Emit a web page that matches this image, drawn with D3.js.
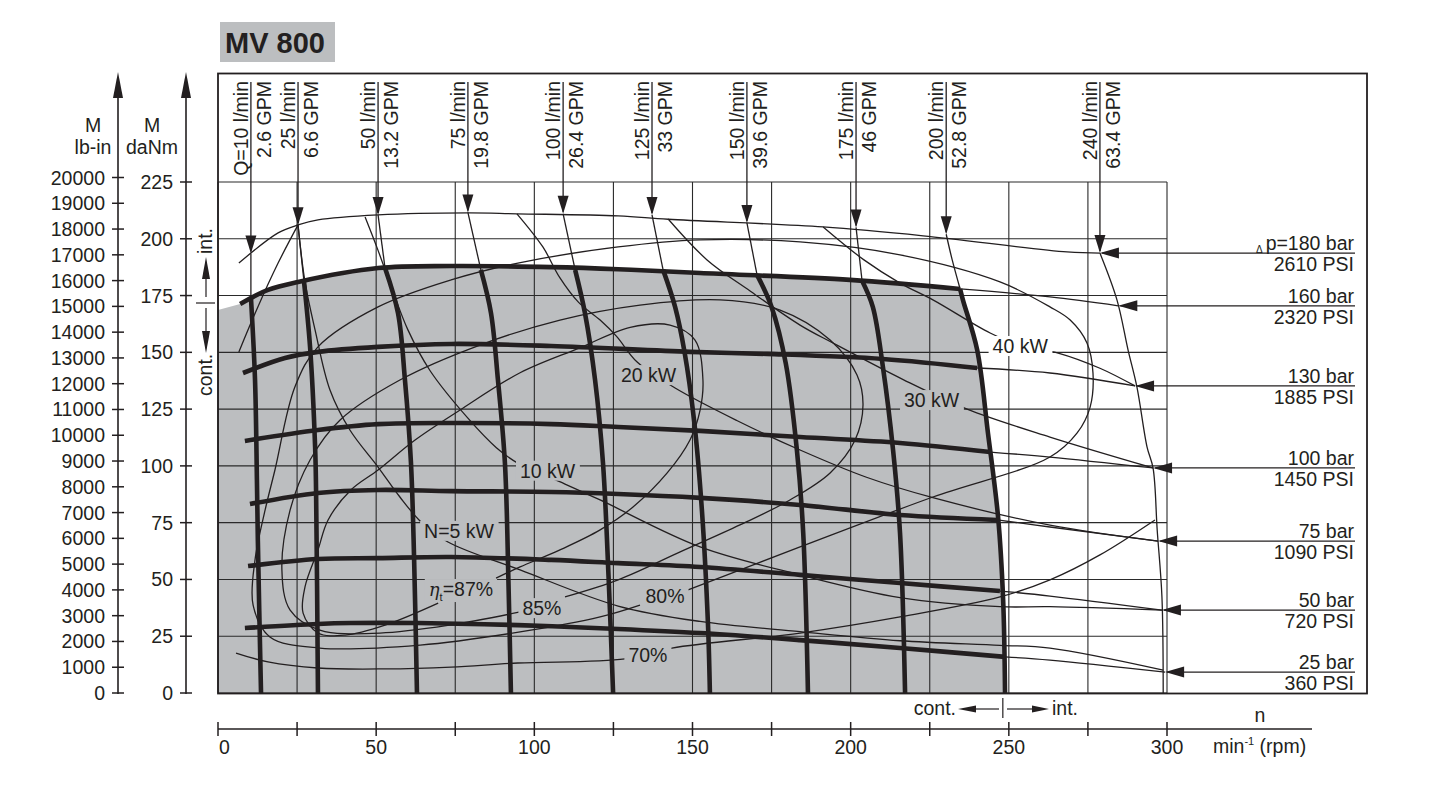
<!DOCTYPE html>
<html>
<head>
<meta charset="utf-8">
<script src="https://cdn.jsdelivr.net/npm/d3@7/dist/d3.min.js"></script>
<style>
html,body{margin:0;padding:0;background:#fff;}
svg{display:block;}
text{font-family:"Liberation Sans",Arial,Helvetica,sans-serif;fill:#231f20;}
</style>
</head>
<body>
<svg id="chart" width="1440" height="789"></svg>
<script>
// ================= DATA (n in rpm, M in daNm) =================
const titleText = "MV 800";
const rpmTicks = d3.range(0, 301, 25);
const rpmLabels = [0, 50, 100, 150, 200, 250, 300];
const daNmTicks = d3.range(0, 226, 25);
const lbinTicks = d3.range(0, 20001, 1000);

const flowLpm = ["Q=10 l/min","25 l/min","50 l/min","75 l/min","100 l/min","125 l/min","150 l/min","175 l/min","200 l/min","240 l/min"];
const flowGpm = ["2.6 GPM","6.6 GPM","13.2 GPM","19.8 GPM","26.4 GPM","33 GPM","39.6 GPM","46 GPM","52.8 GPM","63.4 GPM"];

// flow lines: thin part (arrow tip -> continuous region) and thick part (continuous region)
const q10Int  = [[10.4,193.5],[10.4,174.4]];
const q10Cont = [[10.4,174.4],[11.7,138],[12.3,94],[12.6,67],[13.6,0]];
const q25Int  = [[25.3,206],[26.2,194],[27.2,181]];
const q25Cont = [[27.2,181],[29.1,152.4],[30.7,108.3],[31,89.4],[31.6,0]];
const q50Int  = [[50.6,210.5],[52.8,187.1]];
const q50Cont = [[52.8,187.1],[56.9,167.3],[59.1,137.8],[61,101.3],[62,58.6],[62.9,0]];
const q75Int  = [[79,211.6],[83.1,186.3]];
const q75Cont = [[83.1,186.3],[86.3,167.3],[88.5,137.8],[90.7,101.3],[91.8,50],[92.6,0]];
const q100Int  = [[109.1,211],[112.9,186.3]];
const q100Cont = [[112.9,186.3],[116,167.3],[119.2,137.8],[121.7,101.3],[123.5,50],[124.9,0]];
const q125Int  = [[137.2,210.5],[140.7,186.3]];
const q125Cont = [[140.7,186.3],[144.5,170],[147.5,150],[150.5,120],[153,80],[154.9,30],[155.5,0]];
const q150Int  = [[167.2,207],[170.4,184.1]];
const q150Cont = [[170.4,184.1],[175,170],[179.5,145],[183,107],[185,70.5],[186.5,0]];
const q175Int  = [[201.7,205],[203.6,181.5]];
const q175Cont = [[203.6,181.5],[207,170],[210.2,143.5],[213.4,107],[215.6,70.5],[217.2,0]];
const q200Int  = [[230.2,202],[232.1,190.7],[234.6,177.9]];
const q200Cont = [[234.6,177.9],[235.5,173],[240,151],[243.4,114.5],[246.6,77.5],[248.2,41],[248.8,0]];
const q240Line = [[278.8,193.7],[284.2,173],[287.7,151],[290.5,134.7],[293.7,108.3],[295.6,99],[296.9,71.8],[298.4,42.3],[298.8,0]];

// pressure lines
const barLabels = ["p=180 bar","160 bar","130 bar","100 bar","75 bar","50 bar","25 bar"];
const psiLabels = ["2610 PSI","2320 PSI","1885 PSI","1450 PSI","1090 PSI","720 PSI","360 PSI"];
const p180Line = [[6.6,189.3],[19,202.6],[25.3,206.1],[31.6,208.3],[50.6,210.5],[79,211.4],[94.5,211],[126.5,210.1],[142.3,208.6],[191.3,205.2],[222.9,201.3],[268.4,194.2],[278.8,193.7]];
const p160Cont = [[7,171.3],[15.8,177.5],[25.3,181],[50.6,187.1],[73.7,188],[105.3,187.5],[126.5,186.6],[152.4,184.9],[199.8,181.9],[234.6,177.9]];
const p160Int  = [[234.6,177.9],[263,174.4],[284.6,170.5]];
const p130Cont = [[7.9,140.9],[21.2,147.5],[31.6,150.2],[50.6,152.4],[73.7,153.7],[105.3,152.8],[149.2,150.2],[173.6,149.3],[210.2,147.1],[240,143.1]];
const p130Int  = [[240,143.1],[263,140.9],[289.9,135.2]];
const p100Cont = [[8.5,111],[31.6,115.8],[50.6,118.4],[73.7,118.9],[105.3,118.4],[126.5,117.1],[152.4,115.4],[184,112.7],[215.6,110.1],[244.1,106.1]];
const p100Int  = [[244.1,106.1],[263,103.9],[295.6,99.1]];
const p75Cont = [[10.1,83.2],[31.6,88.1],[50.6,89.4],[73.7,88.9],[105.3,88.5],[126.5,87.6],[152.4,85.9],[184,82.8],[215.6,78.4],[246.3,76.2]];
const p75Int  = [[246.3,76.2],[263,73.1],[297.2,66.9]];
const p50Cont = [[9.5,55.9],[31.6,59],[50.6,59.4],[73.7,59.9],[105.3,58.6],[126.5,57.2],[152.4,55.5],[184,52],[215.6,48.4],[247.2,44.9]];
const p50Int  = [[247.2,44.9],[263,42.7],[298.4,36.5]];
const p25Cont = [[8.5,28.6],[31.6,30.4],[42,30.8],[63.2,30.8],[94.8,29.9],[126.5,28.2],[152.4,26.4],[184,23.3],[215.6,19.8],[248.8,15.9]];
const p25Int  = [[248.8,15.9],[263,14.5],[299.4,9.2]];

// continuous region meets the M axis here
const contEdgeAtZero = [0,168.6];

// power lines N (kW)
const n5  = [[25.3,206.1],[27.5,181],[30.7,159.8],[35.4,133.4],[41.7,115.8],[50.6,99.5],[57.5,86.3],[64.2,75.3],[72.7,66.5],[95.5,54.2],[126.5,38.3],[152.4,31.5],[184,27],[215.6,23],[247.2,21],[263,19.8],[298.8,10.1]];
const n10 = [[46.5,209.6],[50.3,196],[55,178],[60,160],[67,142],[79,121],[88,108],[95,101],[109.7,92],[120.8,85],[152.4,64.3],[184,52],[215.6,42],[247.2,38],[263,38],[298.4,36.5]];
const n20 = [[94.5,211],[102.7,196.4],[108,183],[114,172],[120.8,164.2],[126,157],[132.5,145.7],[144.5,134.3],[164,120],[184,107],[205,95],[226,86],[263,73.9],[297.2,66.9]];
const n30 = [[142.3,208.7],[154.6,190.7],[168.2,177],[184,162],[194.4,154.1],[216.6,138],[236.8,125],[263,112.7],[295.6,99.1]];
const n40 = [[191.3,205.2],[204.2,190.7],[215.6,180.5],[226,173.1],[244.1,158.5],[253.6,153],[265.6,149.7],[278.8,143],[289.9,135.2]];

// efficiency curves
const eta87 = [[69.6,39.6],[52.8,29.9],[40.2,25.5],[31.6,26.4],[26.9,35.2],[27.5,46.7],[31.6,63],[34.8,76.2],[42,89.4],[50.6,98.2],[62.3,111.4],[76.5,124.6],[95.5,141],[114.4,152],[130.3,161],[142.9,162],[150.8,155.4],[153.3,137.8],[152.4,124.6],[149.2,111.4],[142,96.9],[131.2,81.9],[120.8,71.8],[108.1,63],[95.5,55.5],[87.9,50.6]];
const eta85 = [[95.5,35.7],[73.3,29.9],[51.2,26.4],[32.2,27.7],[22.8,36.5],[20.2,54.2],[22.8,80.6],[29.1,102.6],[38.6,120.2],[57.5,137.8],[82.8,153.2],[108.1,164.2],[133.4,170.8],[158.7,173.1],[177.7,168.6],[193.5,155.4],[202,140],[203.9,126.8],[201.4,111.4],[193.5,96.9],[180.8,85],[165,74],[146.1,62.1],[126.5,49.8],[109.7,42.3]];
const eta80 = [[133.4,38.7],[120.8,33.5],[95.5,26.9],[63.9,21.1],[32.2,19.8],[16.4,24.7],[11.1,38.7],[11.7,58.6],[14.9,80.6],[18,98.2],[24.3,134.7],[31.6,152.4],[50.6,170],[73.7,181.9],[94.8,189.3],[126.5,196.4],[152.4,199.5],[184,198.6],[215.6,192.9],[247.2,181],[263,170],[269.4,164.2],[274.7,154.1],[276.6,140.9],[275.7,125.9],[271.6,114.5],[263,103.9],[226,86.3],[184,64.3],[148.6,45.4]];
const eta70 = [[5.7,17.6],[15.8,13.7],[31.6,11],[52.8,10.6],[73.7,11.4],[94.8,13.2],[128.7,15],[143.5,19.8],[184,26.4],[215.6,33.5],[247.2,42.3],[263,49.8],[278.8,60.8],[296.2,76.2]];
const etaLeftArm = [[6.6,150.2],[12.6,170],[19,189.3],[25.3,206.1]];

// curve labels: [text, n, M(baseline)]
const powerLabels = [["N=5 kW",76.2,68.3],["10 kW",104.2,94.8],["20 kW",136.1,136.9],["30 kW",225.6,125.9],["40 kW",253.6,149.7]];
const etaLabels = [["85%",102.4,34.3],["80%",141.3,39.6],["70%",135.9,13.7]];
const eta87Label = [76.8,42.7];

// ================= DRAWING =================
const INK = "#231f20", GRAY = "#bcbec0";
const FS = 19.5;
const svg = d3.select("#chart");
const X = d3.scaleLinear().domain([0,300]).range([218,1167]);
const Y = d3.scaleLinear().domain([0,225]).range([693,182]);
const YL = d3.scaleLinear().domain([0,20000]).range([693,177.5]);
const line = d3.line().x(d=>X(d[0])).y(d=>Y(d[1])).curve(d3.curveCatmullRom.alpha(0.5));

svg.append("rect").attr("width",1440).attr("height",789).attr("fill","#fff");

// title
svg.append("rect").attr("x",220).attr("y",22).attr("width",115).attr("height",40).attr("fill",GRAY);
svg.append("text").attr("x",225).attr("y",53).attr("font-size",29).attr("font-weight","bold").text(titleText);

// continuous (grey) region
const areaPath = "M"+X(contEdgeAtZero[0])+","+Y(contEdgeAtZero[1]) +
  "L"+line(p160Cont).slice(1) + "L"+line(q200Cont).slice(1) +
  "L"+X(0)+","+Y(0)+"Z";
svg.append("path").attr("d",areaPath).attr("fill",GRAY);

// grid
const grid = svg.append("g").attr("stroke","#2a2a2a").attr("stroke-width",1.1);
rpmTicks.forEach(v=>grid.append("line").attr("x1",X(v)).attr("x2",X(v)).attr("y1",Y(0)).attr("y2",Y(225)));
daNmTicks.forEach(v=>grid.append("line").attr("x1",X(0)).attr("x2",X(300)).attr("y1",Y(v)).attr("y2",Y(v)));

// frame
svg.append("rect").attr("x",218).attr("y",73.5).attr("width",1149).attr("height",620).attr("fill","none").attr("stroke",INK).attr("stroke-width",1.8);

// thin curves
const thin = svg.append("g").attr("fill","none").attr("stroke",INK).attr("stroke-width",1.3);
[eta87,eta85,eta80,eta70,etaLeftArm,n5,n10,n20,n30,n40,p180Line,q240Line,
 p160Int,p130Int,p100Int,p75Int,p50Int,p25Int,
 q10Int,q25Int,q50Int,q75Int,q100Int,q125Int,q150Int,q175Int,q200Int].forEach(d=>thin.append("path").attr("d",line(d)));

// thick curves
const thick = svg.append("g").attr("fill","none").attr("stroke",INK).attr("stroke-width",4.6).attr("stroke-linecap","butt");
[p160Cont,p130Cont,p100Cont,p75Cont,p50Cont,p25Cont,
 q10Cont,q25Cont,q50Cont,q75Cont,q100Cont,q125Cont,q150Cont,q175Cont,q200Cont].forEach(d=>thick.append("path").attr("d",line(d)));

// flow arrows & labels
const flowInts = [q10Int,q25Int,q50Int,q75Int,q100Int,q125Int,q150Int,q175Int,q200Int,q240Line];
const fl = svg.append("g");
flowInts.forEach((arr,i)=>{
  const tip = arr[0], tx = X(tip[0]), ty = Y(tip[1]);
  fl.append("line").attr("x1",tx).attr("x2",tx).attr("y1",82).attr("y2",ty-2).attr("stroke",INK).attr("stroke-width",1.3);
  fl.append("path").attr("d",`M${tx},${ty}L${tx-5.5},${ty-18}L${tx+5.5},${ty-18}Z`).attr("fill",INK);
  fl.append("text").attr("transform",`translate(${tx-3},81) rotate(-90)`).attr("text-anchor","end").attr("font-size",FS).text(flowLpm[i]);
  fl.append("text").attr("transform",`translate(${tx+20},81) rotate(-90)`).attr("text-anchor","end").attr("font-size",FS).text(flowGpm[i]);
});

// pressure arrows & labels
const pressEnds = [p180Line,p160Int,p130Int,p100Int,p75Int,p50Int,p25Int];
const pl = svg.append("g");
pressEnds.forEach((arr,i)=>{
  const tip = arr[arr.length-1], tx = X(tip[0]), ty = Y(tip[1]);
  pl.append("line").attr("x1",tx+2).attr("x2",1355).attr("y1",ty).attr("y2",ty).attr("stroke",INK).attr("stroke-width",1.2);
  pl.append("path").attr("d",`M${tx},${ty}L${tx+19},${ty-5.5}L${tx+19},${ty+5.5}Z`).attr("fill",INK);
  const t = pl.append("text").attr("x",1354).attr("y",ty-3).attr("text-anchor","end").attr("font-size",FS);
  if(i===0){ t.append("tspan").attr("font-size",10).attr("dy",3).text("\u0394"); t.append("tspan").attr("dx",3).attr("dy",-3).text(barLabels[i]); }
  else t.text(barLabels[i]);
  pl.append("text").attr("x",1354).attr("y",ty+18).attr("text-anchor","end").attr("font-size",FS).text(psiLabels[i]);
});

// curve labels with background
function inCont(n,M){ return n < 238 && M < 172; }
const lab = svg.append("g");
function addLabel(build, n, M){
  const g = lab.append("g");
  const t = g.append("text").attr("x",X(n)).attr("y",Y(M)).attr("text-anchor","middle").attr("font-size",FS);
  build(t);
  const b = t.node().getBBox();
  g.insert("rect","text").attr("x",b.x-4).attr("y",b.y+1).attr("width",b.width+8).attr("height",b.height-2)
    .attr("fill", inCont(n,M) ? GRAY : "#fff");
}
powerLabels.forEach(d=>addLabel(t=>t.text(d[0]), d[1], d[2]));
etaLabels.forEach(d=>addLabel(t=>t.text(d[0]), d[1], d[2]));
addLabel(t=>{
  t.append("tspan").attr("font-style","italic").attr("font-family","DejaVu Serif, serif").attr("font-size",18).text("\u03b7");
  t.append("tspan").attr("font-size",11).attr("dy",5).text("t");
  t.append("tspan").attr("dy",-5).text("=87%");
}, eta87Label[0], eta87Label[1]);

// ---------- left axes ----------
const ax = svg.append("g");
[[118,YL,lbinTicks,105],[186,Y,daNmTicks,173]].forEach(([ax0,sc,ticks,lx])=>{
  ax.append("line").attr("x1",ax0).attr("x2",ax0).attr("y1",96).attr("y2",694).attr("stroke",INK).attr("stroke-width",1.6);
  ax.append("path").attr("d",`M${ax0},72L${ax0-5},98L${ax0+5},98Z`).attr("fill",INK);
  ticks.forEach(v=>{
    ax.append("line").attr("x1",ax0-6).attr("x2",ax0+6).attr("y1",sc(v)).attr("y2",sc(v)).attr("stroke",INK).attr("stroke-width",1.5);
    ax.append("text").attr("x",lx).attr("y",sc(v)+7).attr("text-anchor","end").attr("font-size",FS).text(v);
  });
});
ax.append("text").attr("x",93).attr("y",132).attr("text-anchor","middle").attr("font-size",FS).text("M");
ax.append("text").attr("x",93).attr("y",154).attr("text-anchor","middle").attr("font-size",FS).text("lb-in");
ax.append("text").attr("x",152).attr("y",132).attr("text-anchor","middle").attr("font-size",FS).text("M");
ax.append("text").attr("x",152).attr("y",154).attr("text-anchor","middle").attr("font-size",FS).text("daNm");

// vertical cont./int. marker
ax.append("line").attr("x1",206).attr("x2",206).attr("y1",275).attr("y2",297).attr("stroke",INK).attr("stroke-width",1.2);
ax.append("path").attr("d","M206,257L202,279L210,279Z").attr("fill",INK);
ax.append("line").attr("x1",196).attr("x2",215).attr("y1",303).attr("y2",303).attr("stroke",INK).attr("stroke-width",1.2);
ax.append("line").attr("x1",206).attr("x2",206).attr("y1",308).attr("y2",334).attr("stroke",INK).attr("stroke-width",1.2);
ax.append("path").attr("d","M206,353L202,331L210,331Z").attr("fill",INK);
ax.append("text").attr("transform","translate(212,254) rotate(-90)").attr("font-size",FS).text("int.");
ax.append("text").attr("transform","translate(212,396) rotate(-90)").attr("font-size",FS).text("cont.");

// ---------- bottom axis ----------
const bx = svg.append("g");
bx.append("line").attr("x1",X(0)).attr("x2",1312).attr("y1",729).attr("y2",729).attr("stroke",INK).attr("stroke-width",1.6);
rpmTicks.forEach(v=>bx.append("line").attr("x1",X(v)).attr("x2",X(v)).attr("y1",722).attr("y2",736).attr("stroke",INK).attr("stroke-width",1.5));
rpmLabels.forEach(v=>bx.append("text").attr("x",v===0?X(v)+1:X(v)).attr("y",754).attr("text-anchor",v===0?"start":"middle").attr("font-size",FS).text(v));
bx.append("text").attr("x",1260).attr("y",722).attr("text-anchor","middle").attr("font-size",FS).text("n");
const mt = bx.append("text").attr("x",1213).attr("y",753).attr("font-size",FS);
mt.append("tspan").text("min");
mt.append("tspan").attr("font-size",11).attr("dy",-8).text("-1");
mt.append("tspan").attr("dy",8).text(" (rpm)");
// cont <- | -> int
bx.append("text").attr("x",956).attr("y",715).attr("text-anchor","end").attr("font-size",FS).text("cont.");
bx.append("path").attr("d","M958,709L976,705.5L976,712.5Z").attr("fill",INK);
bx.append("line").attr("x1",975).attr("x2",999).attr("y1",709).attr("y2",709).attr("stroke",INK).attr("stroke-width",1.2);
bx.append("line").attr("x1",X(250)-6).attr("x2",X(250)-6).attr("y1",698).attr("y2",718).attr("stroke",INK).attr("stroke-width",1.2);
bx.append("line").attr("x1",1007).attr("x2",1034).attr("y1",709).attr("y2",709).attr("stroke",INK).attr("stroke-width",1.2);
bx.append("path").attr("d","M1049,709L1032,705.5L1032,712.5Z").attr("fill",INK);
bx.append("text").attr("x",1052).attr("y",715).attr("font-size",FS).text("int.");
</script>
</body>
</html>
